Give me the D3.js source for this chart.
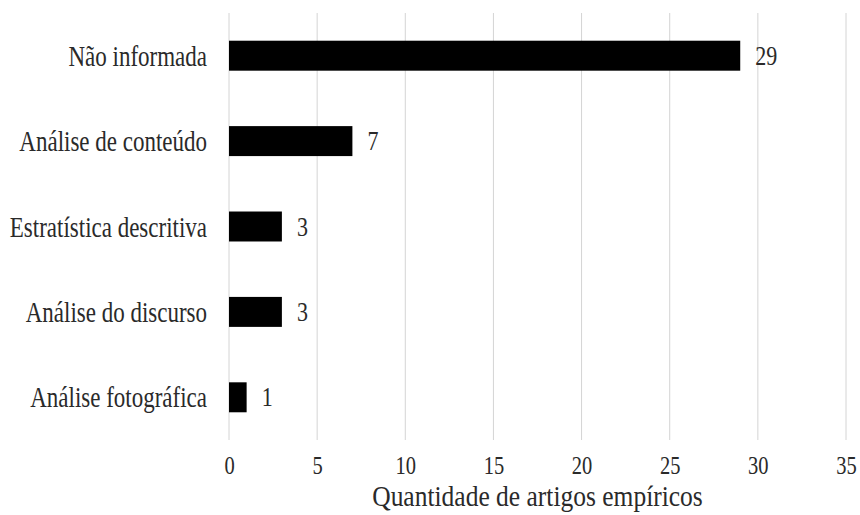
<!DOCTYPE html>
<html><head><meta charset="utf-8">
<script src="https://cdn.jsdelivr.net/npm/d3@7"></script>
<style>body{margin:0;background:#fff}svg{display:block}
svg text{font-family:"Liberation Serif";}</style>
</head><body>
<svg id="c" width="860" height="515"></svg>
<script>
const categories = ["Não informada","Análise de conteúdo","Estratística descritiva","Análise do discurso","Análise fotográfica"];
const values = [29,7,3,3,1];
const xTicks = [0,5,10,15,20,25,30,35];
const xTitle = "Quantidade de artigos empíricos";

const svg = d3.select("#c");
const font = '"Liberation Serif"';
const VS = 1.25; // vertical stretch of the text seen in the reference
const x = d3.scaleLinear().domain([0,35]).range([229,846]);
const y = d3.scaleBand().domain(categories).range([13,440]).paddingInner(0.649).paddingOuter(0.3245);

svg.append("g").selectAll("line").data(xTicks).join("line")
  .attr("x1",d=>x(d)).attr("x2",d=>x(d)).attr("y1",13).attr("y2",440)
  .attr("stroke","#d4d4d4").attr("stroke-width",1);

svg.append("g").selectAll("rect").data(values).join("rect")
  .attr("x",x(0)).attr("y",(d,i)=>y(categories[i]))
  .attr("width",d=>x(d)-x(0)).attr("height",y.bandwidth())
  .attr("fill","#000");

svg.append("g").selectAll("text").data(values).join("text")
  .attr("transform",(d,i)=>`translate(${x(d)+15},${y(categories[i])+y.bandwidth()/2+9}) scale(1,${VS})`)
  .style("font-family",font).style("font-size","22px").attr("fill","#2a2a2a")
  .text(d=>d);

const yAxis = d3.axisLeft(y).tickSize(0).tickPadding(22);
const gy = svg.append("g").attr("transform",`translate(${x(0)},0)`).call(yAxis);
gy.select(".domain").remove();
gy.selectAll("text").attr("dy",null).attr("y",0)
  .attr("transform",`translate(0,10) scale(1,${VS})`)
  .style("font-family",font).style("font-size","23px").attr("fill","#2a2a2a");

const axisY = 455;
const xAxis = d3.axisBottom(x).tickValues(xTicks).tickSize(0).tickPadding(0);
const gx = svg.append("g").attr("transform",`translate(0,${axisY})`).call(xAxis);
gx.select(".domain").remove();
gx.selectAll("text").attr("dy",null).attr("y",0)
  .attr("transform",`translate(0,${474-axisY}) scale(1,${VS})`)
  .style("font-family",font).style("font-size","20.5px").attr("fill","#2a2a2a");

svg.append("text")
  .attr("transform",`translate(${(x(0)+x(35))/2},506) scale(1,1.15)`)
  .attr("text-anchor","middle").style("font-family",font).style("font-size","25.5px").attr("fill","#2a2a2a")
  .text(xTitle);
</script>
</body></html>
